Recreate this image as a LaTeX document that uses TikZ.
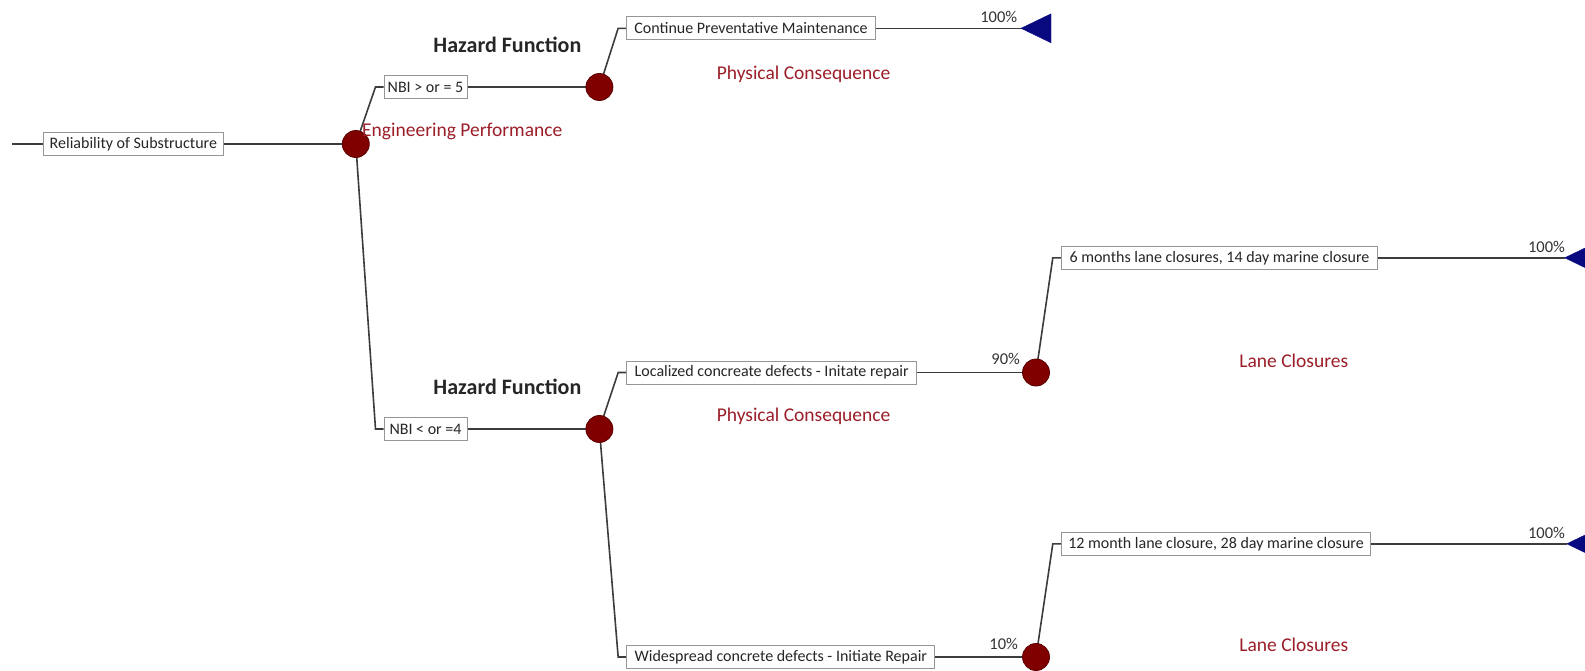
\documentclass[tikz,border=0pt]{standalone}
\usepackage{fontspec}
\setmainfont{Carlito}
\usetikzlibrary{backgrounds}
\definecolor{lineC}{RGB}{60,60,60}
\definecolor{boxC}{RGB}{150,150,150}
\definecolor{chanceC}{RGB}{128,0,0}
\definecolor{chanceD}{RGB}{90,0,0}
\definecolor{endC}{RGB}{10,10,128}
\definecolor{redT}{RGB}{155,30,40}
\tikzset{
  conn/.style={draw=lineC, line width=1.6pt},
  boxnode/.style={draw=boxC, line width=1pt, fill=white, minimum height=23pt, inner sep=2pt, font=\fontsize{16}{17}\selectfont, text=black!85},
  chance/.style={circle, fill=chanceC, draw=chanceD, line width=0.8pt, minimum size=27pt, inner sep=0pt},
  endtri/.style={fill=endC, draw=endC},
  hazard/.style={font=\fontsize{22}{24}\selectfont\bfseries, text=black!85},
  redlab/.style={font=\fontsize{19.5}{22}\selectfont, text=redT},
  pct/.style={font=\fontsize{16.5}{18}\selectfont, text=black!80},
}
\begin{document}
\begin{tikzpicture}[x=1pt,y=-1pt]
\useasboundingbox (0,0) rectangle (1585,670);
% nodes
\coordinate (start) at (12,144);
\node[boxnode, minimum width=180pt] (rel) at (133.4,144) {Reliability of Substructure};
\node[chance] (c1) at (355.8,144) {};
\node[boxnode, minimum width=83pt] (nbi5) at (425.5,87) {NBI > or = 5};
\node[chance] (c2) at (599.4,87) {};
\node[boxnode, minimum width=248.7pt] (cpm) at (751,28.3) {Continue Preventative Maintenance};
\node[boxnode, minimum width=83pt] (nbi4) at (425.5,429) {NBI < or =4};
\node[chance] (c3) at (599.4,429) {};
\node[boxnode, minimum width=290pt] (loc) at (771.7,372.5) {Localized concreate defects - Initate repair};
\node[chance] (c4) at (1036,372.5) {};
\node[boxnode, minimum width=316.4pt] (six) at (1219.5,257.8) {6 months lane closures, 14 day marine closure};
\node[boxnode, minimum width=308.3pt] (wide) at (780.8,657) {Widespread concrete defects - Initiate Repair};
\node[chance] (c5) at (1036,657) {};
\node[boxnode, minimum width=309.4pt] (twelve) at (1216,543.8) {12 month lane closure, 28 day marine closure};
\coordinate (t1) at (1021,28.3);
\coordinate (t2) at (1564.7,257.8);
\coordinate (t3) at (1566.8,543.8);
% connectors
\begin{scope}[on background layer]
\draw[conn] (start) -- (rel.west);
\draw[conn] (rel.east) -- (c1.center);
\draw[conn] (c1.center) -- ([xshift=-8pt]nbi5.west) -- (nbi5.west);
\draw[conn] (c1.center) -- ([xshift=-8pt]nbi4.west) -- (nbi4.west);
\draw[conn] (nbi5.east) -- (c2.center);
\draw[conn] (c2.center) -- ([xshift=-8pt]cpm.west) -- (cpm.west);
\draw[conn] (cpm.east) -- (t1);
\draw[conn] (nbi4.east) -- (c3.center);
\draw[conn] (c3.center) -- ([xshift=-8pt]loc.west) -- (loc.west);
\draw[conn] (c3.center) -- ([xshift=-8pt]wide.west) -- (wide.west);
\draw[conn] (loc.east) -- (c4.center);
\draw[conn] (wide.east) -- (c5.center);
\draw[conn] (c4.center) -- ([xshift=-8pt]six.west) -- (six.west);
\draw[conn] (six.east) -- (t2);
\draw[conn] (c5.center) -- ([xshift=-8pt]twelve.west) -- (twelve.west);
\draw[conn] (twelve.east) -- (t3);
\end{scope}
% terminal triangles
\fill[endtri] (t1) -- ++(30,-14.5) -- ++(0,29) -- cycle;
\fill[endtri] (t2) -- ++(30,-14.5) -- ++(0,29) -- cycle;
\fill[endtri] (t3) -- ++(30,-14.5) -- ++(0,29) -- cycle;
% labels
\node[hazard] (hf1) at (507.4,44.5) {Hazard Function};
\node[hazard] (hf2) at (507.4,387) {Hazard Function};
\node[redlab, anchor=west, inner sep=0pt] (ep) at (362,131.4) {Engineering Performance};
\node[redlab] (pc1) at (803.6,73.8) {Physical Consequence};
\node[redlab] (pc2) at (803.6,416.4) {Physical Consequence};
\node[redlab] (lc1) at (1293.8,360.9) {Lane Closures};
\node[redlab] (lc2) at (1293.8,645) {Lane Closures};
\node[pct] (p1) at (998.7,17.2) {100\%};
\node[pct] (p2) at (1546.5,246.6) {100\%};
\node[pct] (p3) at (1546.5,532.7) {100\%};
\node[pct] (p90) at (1005.7,358.8) {90\%};
\node[pct] (p10) at (1003.7,644) {10\%};
\end{tikzpicture}
\end{document}
